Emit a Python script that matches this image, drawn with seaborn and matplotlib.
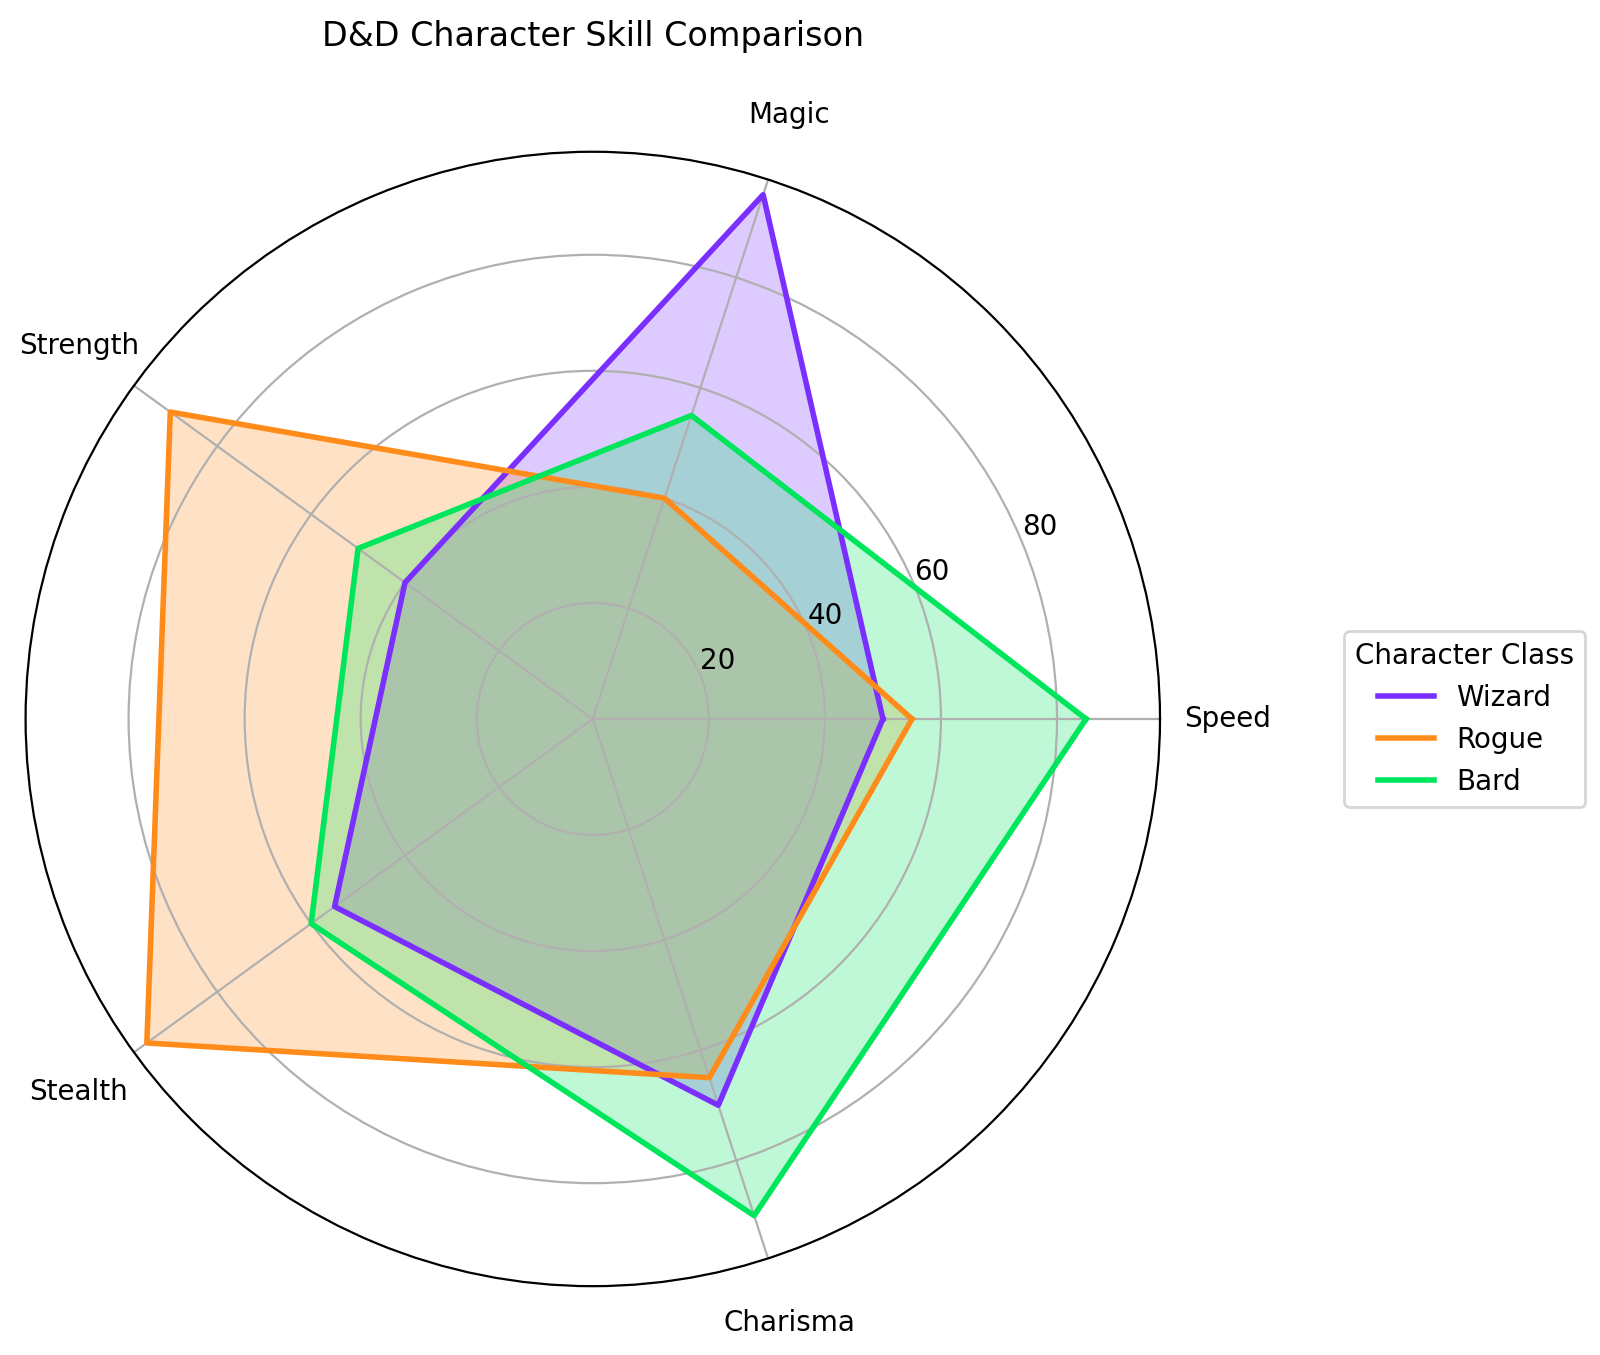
import numpy as np
import pandas as pd
import matplotlib
matplotlib.use("Agg")
import matplotlib.pyplot as plt
import seaborn as sns

# Skill scores
skills = ["Speed", "Magic", "Strength", "Stealth", "Charisma"]
classes = ["Wizard", "Rogue", "Bard"]
wizard = [50, 95, 40, 55, 70]
rogue = [55, 40, 90, 95, 65]
bard = [85, 55, 50, 60, 90]
class_colors = ["#7B2FFF", "#FF8C1A", "#00E65C"]
radial_ticks = [20, 40, 60, 80]

angles = np.linspace(0, 2 * np.pi, len(skills), endpoint=False)
closed_angles = np.concatenate([angles, angles[:1]])

rows = []
for name, vals in zip(classes, [wizard, rogue, bard]):
    closed_vals = list(vals) + [vals[0]]
    for order, (a, v) in enumerate(zip(closed_angles, closed_vals)):
        rows.append({"angle": a, "score": v, "Character Class": name, "order": order})
df = pd.DataFrame(rows)

palette = dict(zip(classes, sns.color_palette(class_colors)))

fig = plt.figure(figsize=(8, 6.775), dpi=200)
ax = fig.add_axes([0.016, 0.0506, 0.709, 0.8376], projection="polar")

sns.lineplot(data=df, x="angle", y="score", hue="Character Class",
             palette=palette, sort=False, estimator=None, linewidth=2,
             ax=ax)
for name in classes:
    sub = df[df["Character Class"] == name]
    ax.fill(sub["angle"], sub["score"], color=palette[name], alpha=0.25)

ax.set_xticks(angles)
ax.set_xticklabels(skills)
ax.tick_params(axis="x", pad=14)
ax.set_yticks(radial_ticks)
ax.set_xlabel("")
ax.set_ylabel("")
ax.set_title("D&D Character Skill Comparison", y=1.093, pad=0)

ax.legend(title="Character Class", loc="center left", bbox_to_anchor=(1.15, 0.5))

fig.savefig("out.png", dpi=200)
